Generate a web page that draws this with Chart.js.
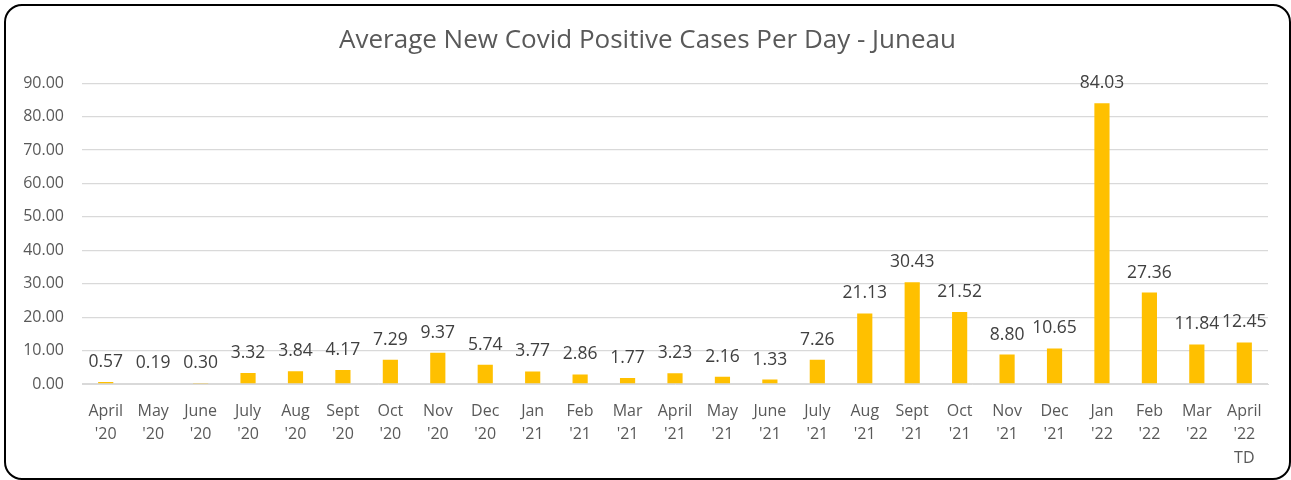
<!DOCTYPE html>
<html>
<head>
<meta charset="utf-8">
<script src="https://cdn.jsdelivr.net/npm/chart.js@4"></script>
<style>
  html, body { margin: 0; padding: 0; background: #fff; }
  #wrap {
    position: absolute; left: 4px; top: 4px;
    width: 1283px; height: 472px;
    border: 2px solid #000; border-radius: 18px;
    overflow: hidden; background: #fff;
  }
  canvas { display: block; }
</style>
</head>
<body>
<div id="wrap"><canvas id="covidChart" width="1283" height="472"></canvas></div>
<script>
// months (two/three line labels like the Excel axis)
const months = [
    ['April', "'20"], ['May', "'20"], ['June', "'20"], ['July', "'20"], ['Aug', "'20"],
    ['Sept', "'20"], ['Oct', "'20"], ['Nov', "'20"], ['Dec', "'20"], ['Jan', "'21"],
    ['Feb', "'21"], ['Mar', "'21"], ['April', "'21"], ['May', "'21"], ['June', "'21"],
    ['July', "'21"], ['Aug', "'21"], ['Sept', "'21"], ['Oct', "'21"], ['Nov', "'21"],
    ['Dec', "'21"], ['Jan', "'22"], ['Feb', "'22"], ['Mar', "'22"], ['April', "'22", 'TD']
];
const avgCases = [0.57, 0.19, 0.30, 3.32, 3.84, 4.17, 7.29, 9.37, 5.74, 3.77, 2.86, 1.77, 3.23,
    2.16, 1.33, 7.26, 21.13, 30.43, 21.52, 8.80, 10.65, 84.03, 27.36, 11.84, 12.45];
const yMin = 0, yMax = 90, yStep = 10;

const fontFamily = '"Open Sans", "Liberation Sans", sans-serif';

// draws the value above each bar
const valueLabels = {
    id: 'valueLabels',
    afterDatasetsDraw(chart) {
        const ctx = chart.ctx;
        const meta = chart.getDatasetMeta(0);
        ctx.save();
        ctx.font = '17.5px ' + fontFamily;
        ctx.fillStyle = '#404040';
        ctx.textAlign = 'center';
        ctx.textBaseline = 'middle';
        meta.data.forEach(function(bar, i) {
            ctx.fillText(avgCases[i].toFixed(2), bar.x, bar.y - 20);
        });
        ctx.restore();
    }
};

document.addEventListener('DOMContentLoaded', function() {
    const ctx = document.getElementById('covidChart').getContext('2d');
    new Chart(ctx, {
        type: 'bar',
        data: {
            labels: months,
            datasets: [{
                data: avgCases,
                backgroundColor: '#FFC000',
                categoryPercentage: 1,
                barPercentage: 0.32
            }]
        },
        options: {
            responsive: false,
            animation: false,
            layout: { padding: 0 },
            plugins: {
                legend: { display: false },
                tooltip: { enabled: false },
                title: {
                    display: true,
                    text: 'Average New Covid Positive Cases Per Day - Juneau',
                    color: '#595959',
                    font: { family: fontFamily, size: 26, weight: 'normal', lineHeight: 1.2 },
                    padding: { top: 19, bottom: 27 }
                }
            },
            scales: {
                x: {
                    grid: { display: false },
                    border: { display: true, color: '#d9d9d9' },
                    ticks: {
                        color: '#595959',
                        font: { family: fontFamily, size: 16, lineHeight: 1.45 },
                        padding: 8,
                        maxRotation: 0,
                        autoSkip: false
                    },
                    afterFit: function(scale) { scale.height = 94; }
                },
                y: {
                    min: yMin,
                    max: yMax,
                    grid: { color: '#d9d9d9', lineWidth: 1.3, drawTicks: false },
                    border: { display: false },
                    ticks: {
                        stepSize: yStep,
                        color: '#595959',
                        font: { family: fontFamily, size: 16 },
                        padding: 18,
                        callback: function(v) { return v.toFixed(2); }
                    },
                    afterFit: function(scale) { scale.width = 76; }
                },
                // empty right axis, only keeps the right margin of the plot
                spacer: {
                    position: 'right',
                    min: yMin,
                    max: yMax,
                    grid: { display: false },
                    border: { display: false },
                    ticks: { display: false },
                    afterFit: function(scale) { scale.width = 21; }
                }
            }
        },
        plugins: [valueLabels]
    });
});
</script>
</body>
</html>
